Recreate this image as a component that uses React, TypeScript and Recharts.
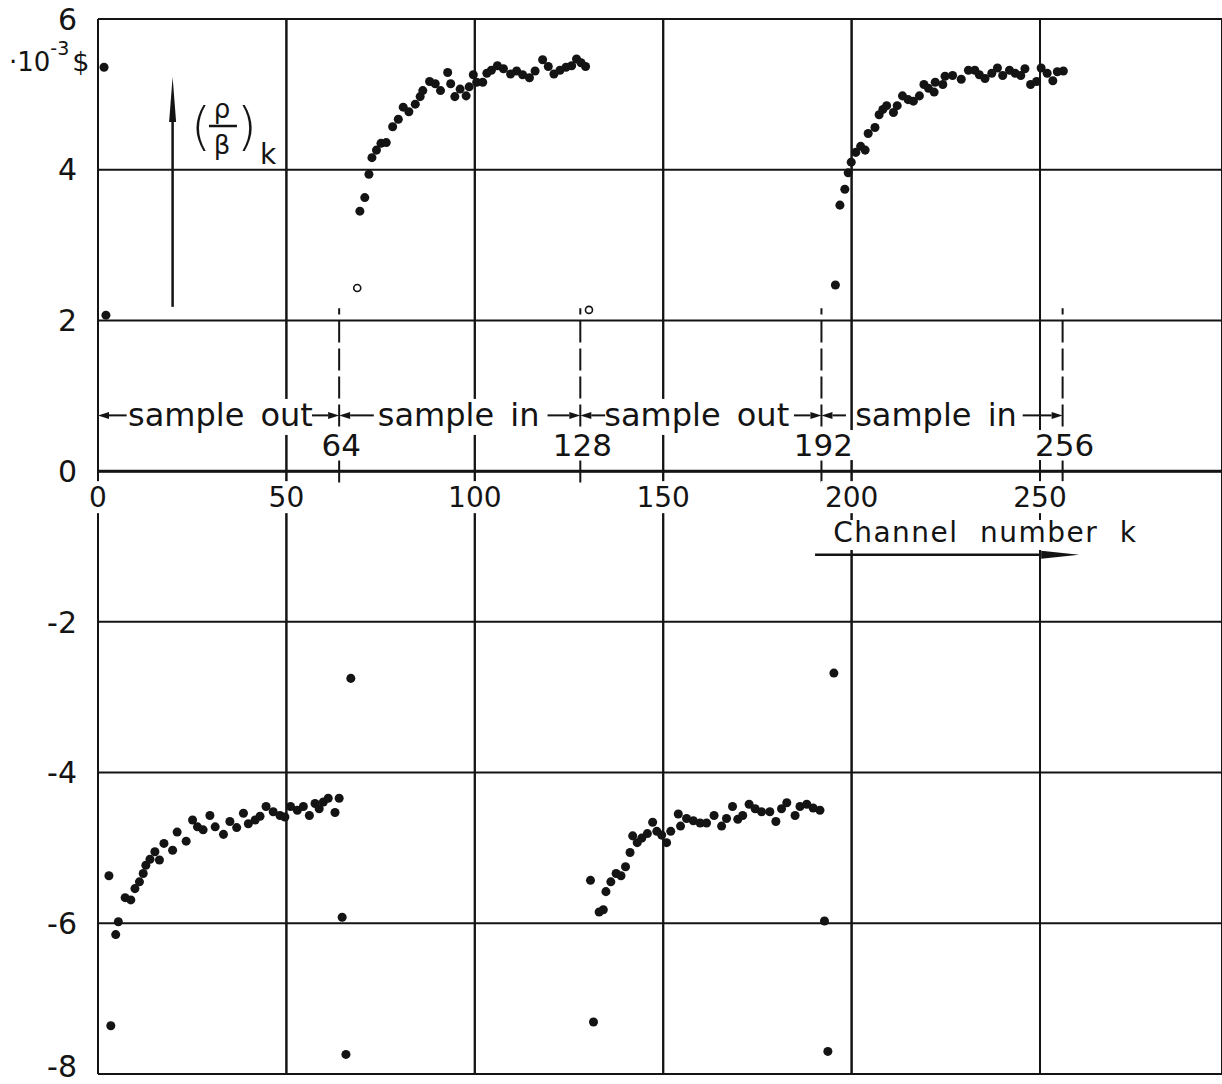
import React from 'react';
import {
  ScatterChart, Scatter, XAxis, YAxis, ZAxis, CartesianGrid,
  ReferenceLine, ReferenceDot,
} from 'recharts';

// (rho/beta)_k in 10^-3 $, against channel number k
const upperInFirst: [number, number][] = [
  [69.5, 3.45], [70.8, 3.63], [71.9, 3.94], [72.7, 4.16], [73.9, 4.26], [75.1, 4.35],
  [76.5, 4.36], [78.2, 4.57], [79.7, 4.67], [81.0, 4.83], [82.5, 4.77], [84.2, 4.87],
  [85.5, 4.97], [86.2, 5.05], [88.0, 5.17], [89.5, 5.14], [90.9, 5.05], [92.8, 5.29],
  [93.6, 5.14], [94.7, 4.97], [96.1, 5.07], [97.7, 4.98], [98.5, 5.10], [99.6, 5.26],
  [100.5, 5.16], [102.1, 5.16], [103.2, 5.28], [104.4, 5.32], [106.0, 5.38], [107.6, 5.34],
  [109.5, 5.27], [111.1, 5.31], [112.7, 5.26], [114.5, 5.22], [116.0, 5.31], [118.0, 5.46],
  [119.5, 5.37], [121.0, 5.27], [122.6, 5.32], [124.2, 5.36], [125.7, 5.38], [127.0, 5.47],
  [128.2, 5.42], [129.4, 5.37],
];

const upperInSecond: [number, number][] = [
  [196.9, 3.53], [198.2, 3.74], [199.1, 3.96], [199.9, 4.10], [201.1, 4.23], [202.4, 4.31],
  [203.6, 4.26], [204.4, 4.48], [206.2, 4.56], [207.3, 4.73], [208.3, 4.80], [209.3, 4.85],
  [211.1, 4.76], [212.1, 4.85], [213.5, 4.98], [215.0, 4.93], [216.4, 4.91], [218.0, 4.98],
  [219.2, 5.13], [220.4, 5.08], [221.9, 5.03], [222.2, 5.16], [224.2, 5.13], [224.8, 5.24],
  [226.8, 5.25], [229.1, 5.20], [231.0, 5.32], [232.7, 5.32], [233.9, 5.26], [235.4, 5.21],
  [237.2, 5.28], [238.7, 5.35], [240.1, 5.25], [241.9, 5.32], [243.4, 5.28], [244.9, 5.25],
  [246.0, 5.34], [247.5, 5.13], [249.1, 5.17], [250.3, 5.35], [251.9, 5.28], [253.4, 5.18],
  [254.6, 5.30], [256.2, 5.31],
];

const lowerOutFirst: [number, number][] = [
  [4.7, -6.15], [5.4, -5.98], [7.2, -5.66], [8.7, -5.69], [9.8, -5.54], [11.0, -5.45],
  [12.0, -5.34], [12.7, -5.23], [13.8, -5.15], [15.1, -5.05], [16.3, -5.16], [17.5, -4.94],
  [19.8, -5.03], [21.0, -4.79], [23.4, -4.91], [25.1, -4.63], [26.4, -4.72], [27.9, -4.76],
  [29.7, -4.57], [31.1, -4.72], [33.3, -4.82], [35.0, -4.65], [36.8, -4.73], [38.6, -4.54],
  [39.9, -4.68], [41.7, -4.63], [43.0, -4.58], [44.6, -4.45], [46.5, -4.52], [48.3, -4.57],
  [49.6, -4.59], [51.1, -4.45], [52.9, -4.50], [54.5, -4.45], [56.1, -4.57], [57.6, -4.41],
  [58.7, -4.48], [59.8, -4.39], [61.1, -4.34], [62.9, -4.53], [64.0, -4.34],
];

const lowerOutSecond: [number, number][] = [
  [133.0, -5.85], [134.1, -5.82], [134.8, -5.58], [136.1, -5.45], [137.5, -5.34], [138.8, -5.37],
  [140.0, -5.25], [141.2, -5.06], [141.9, -4.84], [143.1, -4.93], [144.3, -4.87], [145.8, -4.81],
  [147.2, -4.66], [148.3, -4.78], [149.6, -4.83], [150.9, -4.93], [152.0, -4.78], [154.0, -4.55],
  [154.6, -4.71], [156.2, -4.61], [158.0, -4.64], [159.8, -4.67], [161.5, -4.67], [163.5, -4.57],
  [165.5, -4.71], [166.8, -4.61], [168.4, -4.45], [169.8, -4.62], [171.1, -4.57], [172.8, -4.42],
  [174.4, -4.48], [176.1, -4.52], [178.3, -4.52], [179.9, -4.65], [181.4, -4.48], [182.8, -4.40],
  [185.0, -4.57], [186.3, -4.45], [188.1, -4.42], [189.8, -4.47], [191.6, -4.50],
];

// channels around the switch-over, scattered far from the curves
const switchPoints: [number, number][] = [
  [1.6, 5.36], [2.1, 2.07], [2.9, -5.37], [3.4, -7.36],
  [64.8, -5.92], [65.8, -7.74], [67.1, -2.75],
  [130.7, -5.43], [131.5, -7.31],
  [192.8, -5.97], [193.7, -7.70], [195.3, -2.68], [195.7, 2.47],
];

const openPoints: [number, number][] = [[68.8, 2.43], [130.3, 2.14]];

const xTicks = [0, 50, 100, 150, 200, 250];
const yTicks = [-8, -6, -4, -2, 0, 2, 4, 6];
const boundaries = [64, 128, 192, 256];
const phases = [
  { k: 32.5, text: 'sample out' },
  { k: 95.7, text: 'sample in' },
  { k: 158.9, text: 'sample out' },
  { k: 222.4, text: 'sample in' },
];
// arrows of the phase bar: [from, to]
const phaseArrows: [number, number][] = [
  [7.6, 0], [56.8, 64], [73.2, 64], [119.3, 128],
  [134.6, 128], [184.7, 192], [198.5, 192], [245.4, 256],
];

const PHASE_TEXT_V = 0.6;
const PHASE_ARROW_V = 0.74;
const BOUNDARY_TEXT_V = 0.2;

const W = 1222;
const H = 1084;
const INK = '#141414';
const FONT = '"DejaVu Sans", sans-serif';

const toPts = (arr: [number, number][]) => arr.map(([k, v]) => ({ k, v }));

const arrowShape = (head: number, half: number, width: number) => (p: any) => {
  const { x1, y1, x2, y2 } = p;
  const len = Math.hypot(x2 - x1, y2 - y1) || 1;
  const ux = (x2 - x1) / len;
  const uy = (y2 - y1) / len;
  const bx = x2 - ux * head;
  const by = y2 - uy * head;
  const pts = `${x2},${y2} ${bx - uy * half},${by + ux * half} ${bx + uy * half},${by - ux * half}`;
  return (
    <g>
      <line x1={x1} y1={y1} x2={bx} y2={by} stroke={INK} strokeWidth={width} />
      <polygon points={pts} fill={INK} />
    </g>
  );
};

const xTickShape = (t: number) => (p: any) => {
  const label = String(t);
  const w = label.length * 18 + 8;
  return (
    <g>
      <rect x={p.cx - w / 2} y={p.cy + 10} width={w} height={32} fill="#fff" />
      <text x={p.cx} y={p.cy + 36} textAnchor="middle" fontSize={28} fontFamily={FONT} fill={INK}>{label}</text>
    </g>
  );
};

// y tick labels; the lowest one is kept just inside the picture
const YTick = (p: any) => (
  <text
    x={p.x} y={Math.min(p.y, H - 18)} dy="0.355em" textAnchor="end"
    fontSize={30} fontFamily={FONT} fill={INK}
  >
    {p.payload.value}
  </text>
);

const phaseShape = (text: string) => (p: any) => {
  const w = text.length * 0.56 * 32 + 2;
  return (
    <g>
      <rect x={p.cx - w / 2} y={p.cy - 27} width={w} height={36} fill="#fff" />
      <text x={p.cx} y={p.cy} textAnchor="middle" fontSize={32} fontFamily={FONT} fill={INK} wordSpacing={6}>{text}</text>
    </g>
  );
};

const boundaryShape = (b: number) => (p: any) => {
  const label = String(b);
  const w = label.length * 19 + 4;
  return (
    <g>
      <rect x={p.cx + 2 - w / 2} y={p.cy - 26} width={w} height={30} fill="#fff" />
      <text x={p.cx + 2} y={p.cy} textAnchor="middle" fontSize={31} fontFamily={FONT} fill={INK}>{label}</text>
    </g>
  );
};

const unitShape = (p: any) => (
  <text x={p.cx - 89} y={p.cy + 52} fontSize={26} fontFamily={FONT} fill={INK}>
    ·10<tspan fontSize={19} dy={-16}>-3</tspan>
    <tspan fontSize={27} dy={16} dx={3}>$</tspan>
  </text>
);

const rhoBetaShape = (p: any) => {
  const { cx, cy } = p;
  return (
    <g fontFamily={FONT} fill={INK}>
      <text x={cx - 21} y={cy + 18} textAnchor="middle" fontSize={52} fontWeight={300}>(</text>
      <text x={cx + 25} y={cy + 18} textAnchor="middle" fontSize={52} fontWeight={300}>)</text>
      <text x={cx} y={cy - 8} textAnchor="middle" fontSize={26}>ρ</text>
      <line x1={cx - 13} y1={cy} x2={cx + 15} y2={cy} stroke={INK} strokeWidth={2.5} />
      <text x={cx} y={cy + 28} textAnchor="middle" fontSize={26}>β</text>
      <text x={cx + 38} y={cy + 38} fontSize={28}>k</text>
    </g>
  );
};

const channelShape = (p: any) => (
  <g>
    <rect x={p.cx - 4} y={p.cy - 22} width={312} height={30} fill="#fff" />
    <text x={p.cx} y={p.cy} fontSize={28} fontFamily={FONT} fill={INK} letterSpacing={1.5} wordSpacing={11}>Channel number k</text>
  </g>
);

const openShape = (p: any) => (
  <circle cx={p.cx} cy={p.cy} r={3.5} fill="#fff" stroke={INK} strokeWidth={1.6} />
);

const NoTick = () => <g />;

export default function App() {
  return (
    <div style={{ position: 'absolute', left: 0, top: 0, width: W, height: H, overflow: 'hidden', background: '#fff' }}>
      <ScatterChart width={W} height={H} margin={{ top: 19, right: 0, bottom: 10, left: 0 }}>
        <CartesianGrid stroke={INK} strokeWidth={2} />
        <XAxis
          type="number" dataKey="k" domain={[0, 298.3]} ticks={xTicks} allowDataOverflow
          tick={NoTick} tickLine={false} axisLine={false} height={0}
        />
        <YAxis
          type="number" dataKey="v" domain={[-8, 6]} ticks={yTicks} allowDataOverflow interval={0}
          width={98} axisLine={false} tickLine={false} tickSize={0} tickMargin={21}
          tick={YTick}
        />
        <ZAxis range={[80, 80]} />
        <ReferenceLine y={0} stroke={INK} strokeWidth={3} />
        {xTicks.map((t) => (
          <ReferenceLine key={`vg${t}`} x={t} stroke={INK} strokeWidth={2} />
        ))}

        {boundaries.map((b) => (
          <ReferenceLine
            key={`b${b}`}
            segment={[{ x: b, y: -0.15 }, { x: b, y: 2.16 }]}
            stroke={INK} strokeWidth={2} strokeDasharray="22 6"
          />
        ))}
        {phaseArrows.map(([a, b], i) => (
          <ReferenceLine
            key={`pa${i}`}
            segment={[{ x: a, y: PHASE_ARROW_V }, { x: b, y: PHASE_ARROW_V }]}
            shape={arrowShape(11, 3.5, 2)}
          />
        ))}
        <ReferenceLine segment={[{ x: 19.8, y: 2.18 }, { x: 19.8, y: 5.23 }]} shape={arrowShape(45, 3.5, 2.5)} />
        <ReferenceLine segment={[{ x: 190.3, y: -1.11 }, { x: 260.4, y: -1.11 }]} shape={arrowShape(38, 4, 2.5)} />

        <Scatter data={toPts(upperInFirst)} fill={INK} isAnimationActive={false} />
        <Scatter data={toPts(upperInSecond)} fill={INK} isAnimationActive={false} />
        <Scatter data={toPts(lowerOutFirst)} fill={INK} isAnimationActive={false} />
        <Scatter data={toPts(lowerOutSecond)} fill={INK} isAnimationActive={false} />
        <Scatter data={toPts(switchPoints)} fill={INK} isAnimationActive={false} />
        <Scatter data={toPts(openPoints)} shape={openShape} isAnimationActive={false} />

        {xTicks.map((t) => (
          <ReferenceDot key={`xt${t}`} x={t} y={0} r={0} ifOverflow="visible" shape={xTickShape(t)} />
        ))}
        {phases.map((ph, i) => (
          <ReferenceDot key={`ph${i}`} x={ph.k} y={PHASE_TEXT_V} r={0} ifOverflow="visible" shape={phaseShape(ph.text)} />
        ))}
        {boundaries.map((b) => (
          <ReferenceDot key={`bl${b}`} x={b} y={BOUNDARY_TEXT_V} r={0} ifOverflow="visible" shape={boundaryShape(b)} />
        ))}
        <ReferenceDot x={0} y={6} r={0} ifOverflow="visible" shape={unitShape} />
        <ReferenceDot x={32.9} y={4.58} r={0} ifOverflow="visible" shape={rhoBetaShape} />
        <ReferenceDot x={195.1} y={-0.94} r={0} ifOverflow="visible" shape={channelShape} />
      </ScatterChart>
    </div>
  );
}
